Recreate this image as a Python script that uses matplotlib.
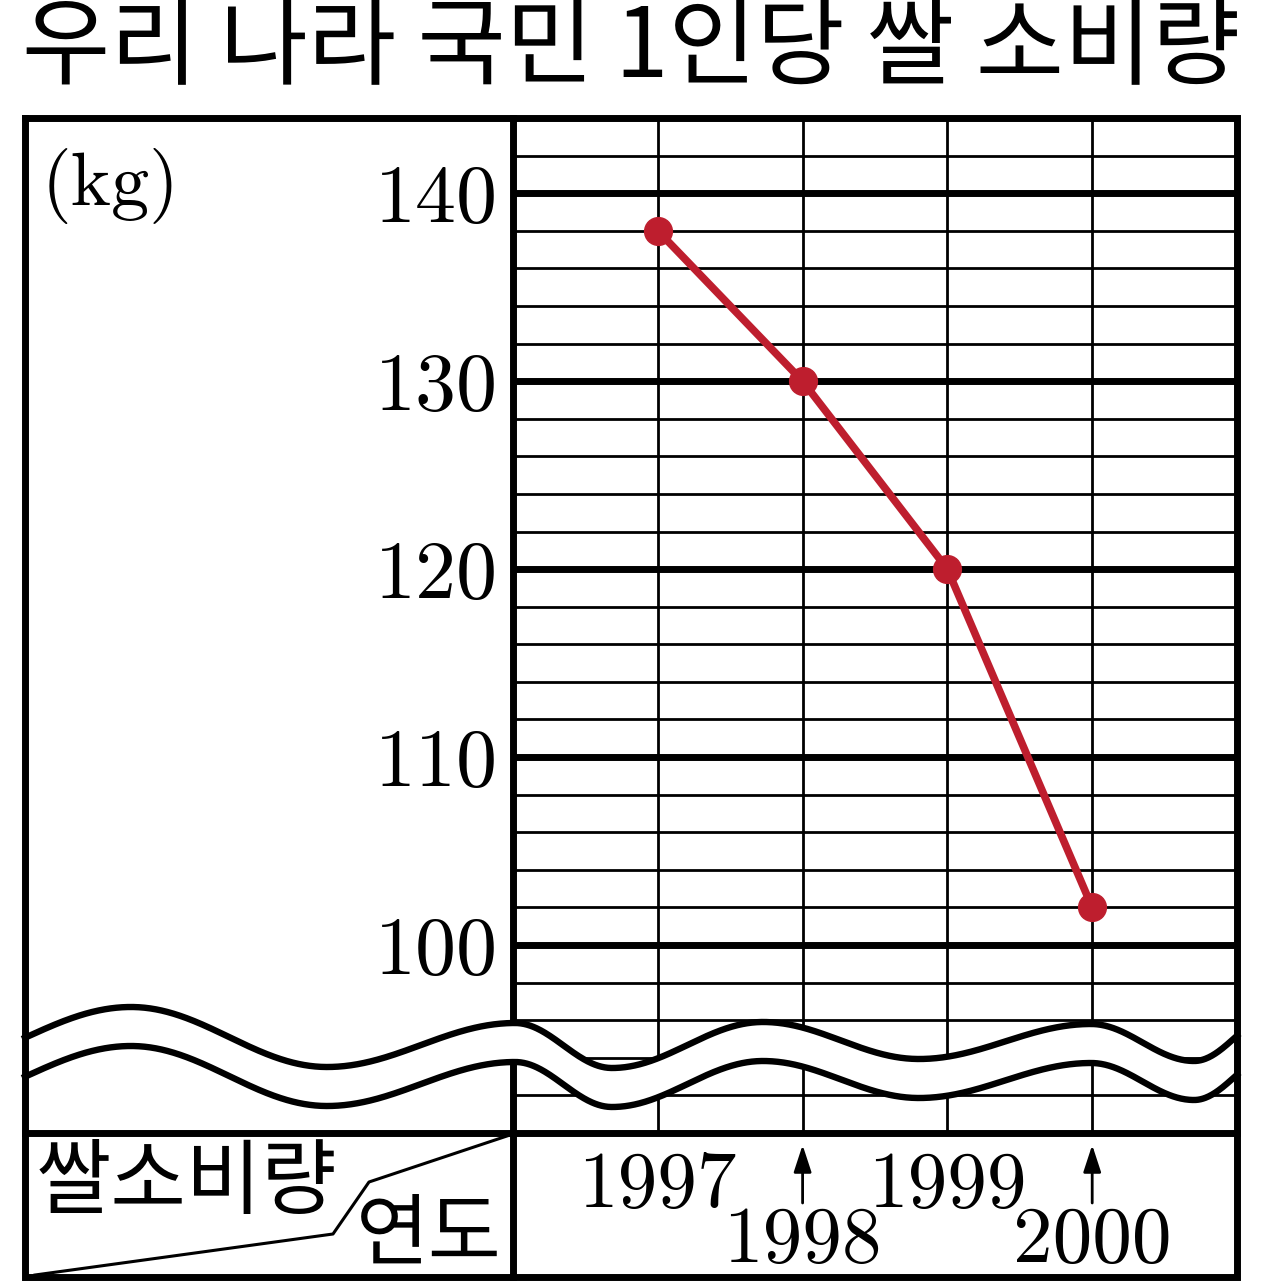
import numpy as np
import matplotlib
matplotlib.use("Agg")
import matplotlib.pyplot as plt
from matplotlib import transforms

# ---------------- data ----------------
title = "우리 나라 국민 1인당 쌀 소비량"
unit_label = "(kg)"
row_header = "쌀소비량"
col_header = "연도"
years = [1997, 1998, 1999, 2000]
year_labels = ["1997", "1998", "1999", "2000"]
consumption = [138, 130, 120, 102]
ytick_values = [100, 110, 120, 130, 140]
ytick_labels = ["100", "110", "120", "130", "140"]
minor_step = 2

# ---------------- layout (pixels) ----------------
W, H = 1263, 1284
FL, FR, FT, FB = 25, 1237, 118, 1277       # outer frame
DIV_X, SEP_Y = 513, 1133                   # divider / bottom row separator
RED = "#BE1E2E"
SERIF = "cmr10"
KR = "Noto Sans CJK KR"

fig = plt.figure(figsize=(W / 100, H / 100), dpi=100)

# data axes (grid area)
ax = fig.add_axes([DIV_X / W, 1 - SEP_Y / H, (FR - DIV_X) / W, (SEP_Y - FT) / H])
ax.set_xlim(1996, 2001)
ax.set_ylim(90, 144)
for v in np.arange(90 + minor_step, 144, minor_step):
    ax.axhline(v, color="black", lw=5 if v % 10 == 0 else 2, zorder=1)
for yr in years:
    ax.axvline(yr, color="black", lw=2, zorder=1)
ax.plot(years, consumption, color=RED, lw=5.5, marker="o", ms=20,
        solid_capstyle="round", zorder=3)
for s in ax.spines.values():
    s.set_visible(False)
ax.set_xticks([])
ax.set_yticks(ytick_values, labels=ytick_labels)
ax.tick_params(axis="y", length=0, pad=11)
for lab in ax.get_yticklabels():
    lab.set_fontfamily(SERIF)
    lab.set_fontsize(59)
ax.patch.set_visible(False)

# overlay axes in pixel coordinates
ov = fig.add_axes([0, 0, 1, 1])
ov.set_xlim(0, W)
ov.set_ylim(H, 0)
ov.axis("off")
ov.patch.set_visible(False)

# break (wave) band
wave_ext = [(-80, 1068), (131, 1007), (327, 1067), (515, 1023), (612, 1068),
            (763, 1022), (919, 1059), (1091, 1024), (1194, 1061), (1275, 1015)]
band_gap = 39
xs = np.linspace(FL, FR, 1500)
ex = np.array([p[0] for p in wave_ext], float)
ey = np.array([p[1] for p in wave_ext], float)
idx = np.clip(np.searchsorted(ex, xs) - 1, 0, len(ex) - 2)
t = (xs - ex[idx]) / (ex[idx + 1] - ex[idx])
up = ey[idx] + (ey[idx + 1] - ey[idx]) * (1 - np.cos(np.pi * t)) / 2
lo = up + band_gap

ov.plot([DIV_X, DIV_X], [FT, FB], color="black", lw=5, zorder=2)
ov.fill_between(xs, up, lo, color="white", zorder=3)
ov.plot(xs, up, color="black", lw=4.6, zorder=4)
ov.plot(xs, lo, color="black", lw=4.6, zorder=4)

# frame
ov.plot([FL, FR, FR, FL, FL], [FT, FT, FB, FB, FT], color="black", lw=5,
        zorder=5, solid_joinstyle="miter")
ov.plot([FL, FR], [SEP_Y, SEP_Y], color="black", lw=5, zorder=5)

# corner header cell
ov.plot([FL + 10, 333, 369, DIV_X - 3], [FB - 2, 1234, 1182, SEP_Y + 2],
        color="black", lw=2.2, zorder=5)
ov.text(186, 1183, row_header, fontfamily=KR, fontsize=59,
        ha="center", va="center", zorder=6)
ov.text(429, 1236, col_header, fontfamily=KR, fontsize=57,
        ha="center", va="center", zorder=6)

# unit label
ov.text(42, 205, unit_label, fontfamily=SERIF, fontsize=55,
        ha="left", va="baseline")

# title
fig.text(0.5, 1 - 48 / H, title, fontfamily=KR, fontsize=69,
         ha="center", va="center")

# year labels (x from data scale, y in pixels)
bt = transforms.blended_transform_factory(ax.transData, ov.transData)
for i, (yr, lab) in enumerate(zip(years, year_labels)):
    if i % 2 == 0:
        ov.text(yr, 1207, lab, transform=bt, fontfamily=SERIF, fontsize=57,
                ha="center", va="baseline")
    else:
        ov.text(yr, 1262, lab, transform=bt, fontfamily=SERIF, fontsize=57,
                ha="center", va="baseline")
        ov.annotate("", xy=(yr, 1145), xytext=(yr, 1203), xycoords=bt,
                    textcoords=bt,
                    arrowprops=dict(arrowstyle="-|>,head_length=0.55,head_width=0.18",
                                    mutation_scale=30, lw=2, color="black",
                                    shrinkA=0, shrinkB=0))

fig.savefig("out.png", dpi=100)
